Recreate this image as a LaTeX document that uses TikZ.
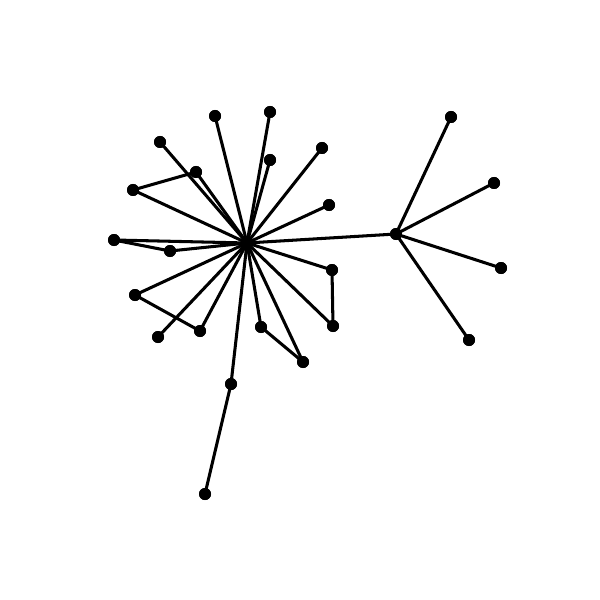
\documentclass[tikz,border=0pt]{standalone}
\begin{document}
\begin{tikzpicture}[x=0.03cm,y=-0.03cm,
  dot/.style={circle,fill=black,inner sep=0pt,minimum size=0.36cm},
  edge/.style={line width=2.6pt}]
\useasboundingbox (0,0) rectangle (600,600);
\fill[white] (0,0) rectangle (600,600);
\coordinate (H) at (247,243);
\node[dot] (R) at (396,234) {};
\node[dot] (a) at (160,142) {};
\node[dot] (b) at (215,116) {};
\node[dot] (c) at (270,112) {};
\node[dot] (d) at (270,160) {};
\node[dot] (e) at (322,148) {};
\node[dot] (f) at (196,172) {};
\node[dot] (g) at (133,190) {};
\node[dot] (h) at (329,205) {};
\node[dot] (i) at (114,240) {};
\node[dot] (j) at (170,251) {};
\node[dot] (k) at (332,270) {};
\node[dot] (l) at (135,295) {};
\node[dot] (m) at (158,337) {};
\node[dot] (n) at (200,331) {};
\node[dot] (o) at (261,327) {};
\node[dot] (p) at (333,326) {};
\node[dot] (q) at (303,362) {};
\node[dot] (r) at (231,384) {};
\node[dot] (s) at (205,494) {};
\node[dot] (r1) at (451,117) {};
\node[dot] (r2) at (494,183) {};
\node[dot] (r3) at (501,268) {};
\node[dot] (r4) at (469,340) {};
\foreach \x in {a,b,c,d,e,f,g,h,i,j,k,l,m,n,o,p,q,r}
  \draw[edge] (H) -- (\x.center);
\draw[edge] (H) -- (R.center);
\draw[edge] (g.center) -- (f.center);
\draw[edge] (i.center) -- (j.center);
\draw[edge] (l.center) -- (n.center);
\draw[edge] (o.center) -- (q.center);
\draw[edge] (k.center) -- (p.center);
\draw[edge] (r.center) -- (s.center);
\foreach \x in {r1,r2,r3,r4}
  \draw[edge] (R.center) -- (\x.center);
\foreach \x in {R,a,b,c,d,e,f,g,h,i,j,k,l,m,n,o,p,q,r,s,r1,r2,r3,r4}
  \node[dot] at (\x) {};
\node[circle,fill=black,inner sep=0pt,minimum size=0.12cm] (hub) at (H) {};
\end{tikzpicture}
\end{document}
